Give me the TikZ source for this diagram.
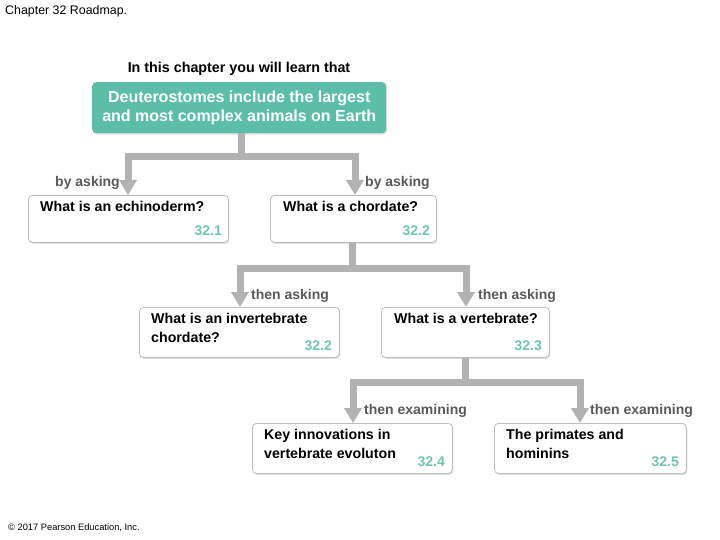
\documentclass[tikz,border=0pt]{standalone}
\usepackage{fontspec}
\setmainfont{Liberation Sans}
\usetikzlibrary{arrows.meta,shadows,calc}
\definecolor{teal1}{RGB}{92,190,168}
\definecolor{num}{RGB}{110,196,178}
\definecolor{conn}{RGB}{178,178,178}
\definecolor{bord}{RGB}{190,190,190}
\begin{document}
\begin{tikzpicture}[x=1pt,y=-1pt,
  qbox/.style={draw=bord,line width=0.8pt,rounded corners=4pt,fill=white,drop shadow={shadow xshift=1pt,shadow yshift=-1.5pt,opacity=0.25},anchor=north west,inner sep=0pt},
  qtext/.style={font=\bfseries\fontsize{14.2}{19}\selectfont,align=left,anchor=north west,inner sep=0pt},
  numt/.style={font=\bfseries\fontsize{14}{16}\selectfont,text=num,anchor=base east,inner sep=0pt},
  lab/.style={font=\bfseries\fontsize{14}{16}\selectfont,text=black!65,anchor=base,inner sep=0pt},
  conn/.style={draw=conn,line width=7pt},
  arr/.style={draw=conn,line width=7pt,-{Triangle[width=17pt,length=15pt]}}]
\useasboundingbox (0,0) rectangle (720,540);
\node[anchor=base west,font=\fontsize{12.4}{14}\selectfont,inner sep=0pt] (title) at (5,15) {Chapter 32 Roadmap.};
\node[anchor=base west,font=\fontsize{9.3}{11}\selectfont,inner sep=0pt] (foot) at (8,530) {© 2017 Pearson Education, Inc.};
\node[anchor=base,font=\bfseries\fontsize{14.3}{16}\selectfont,inner sep=0pt] (intro) at (239,73) {In this chapter you will learn that};
\node[fill=teal1,rounded corners=4pt,minimum width=294pt,minimum height=51pt,anchor=north west,drop shadow={shadow xshift=1pt,shadow yshift=-1.5pt,opacity=0.25},inner sep=0pt] (top) at (92,82) {};
\node[text=white,font=\bfseries\fontsize{16}{19}\selectfont,align=center,inner sep=0pt] (toptxt) at (top.center) {Deuterostomes include the largest\\ and most complex animals on Earth};
% boxes
\node[qbox,minimum width=200pt,minimum height=47pt] (b1) at (28,195) {};
\node[qbox,minimum width=166pt,minimum height=47pt] (b2) at (270,195) {};
\node[qbox,minimum width=200pt,minimum height=50pt] (b3) at (139,307) {};
\node[qbox,minimum width=168pt,minimum height=50pt] (b4) at (381,307) {};
\node[qbox,minimum width=200pt,minimum height=50pt] (b5) at (252,423) {};
\node[qbox,minimum width=192pt,minimum height=50pt] (b6) at (494,423) {};
\node[qtext] (t1) at (40,201) {What is an echinoderm?};
\node[qtext] (t2) at (283,201) {What is a chordate?};
\node[qtext] (t3) at (151,313) {What is an invertebrate\\chordate?};
\node[qtext] (t4) at (394,313) {What is a vertebrate?};
\node[qtext] (t5) at (264,429) {Key innovations in\\vertebrate evoluton};
\node[qtext] (t6) at (506,429) {The primates and\\hominins};
\node[numt] (n1) at (222,236) {32.1};
\node[numt] (n2) at (430,236) {32.2};
\node[numt] (n3) at (332,350) {32.2};
\node[numt] (n4) at (542,350) {32.3};
\node[numt] (n5) at (445,466) {32.4};
\node[numt] (n6) at (679,466) {32.5};
% connectors
\coordinate (j1) at (241,157);
\coordinate (j2) at (352,268);
\coordinate (j3) at (465,382);
\draw[conn] (top.south -| j1) -- (j1);
\draw[arr] (j1) -- (128,157) -- (b1.north -| 128,0);
\draw[arr] (j1) -- (355,157) -- (b2.north -| 355,0);
\draw[conn] (b2.south -| j2) -- (j2);
\draw[arr] (j2) -- (240,268) -- (b3.north -| 240,0);
\draw[arr] (j2) -- (466,268) -- (b4.north -| 466,0);
\draw[conn] (b4.south -| j3) -- (j3);
\draw[arr] (j3) -- (353,382) -- (b5.north -| 353,0);
\draw[arr] (j3) -- (580,382) -- (b6.north -| 580,0);
\node[lab,anchor=base east] (l1) at (120,187) {by asking};
\node[lab,anchor=base west] (l2) at (365,187) {by asking};
\node[lab,anchor=base west] (l3) at (251,299) {then asking};
\node[lab,anchor=base west] (l4) at (478,299) {then asking};
\node[lab,anchor=base west] (l5) at (364,414) {then examining};
\node[lab,anchor=base west] (l6) at (590,414) {then examining};
\end{tikzpicture}
\end{document}
